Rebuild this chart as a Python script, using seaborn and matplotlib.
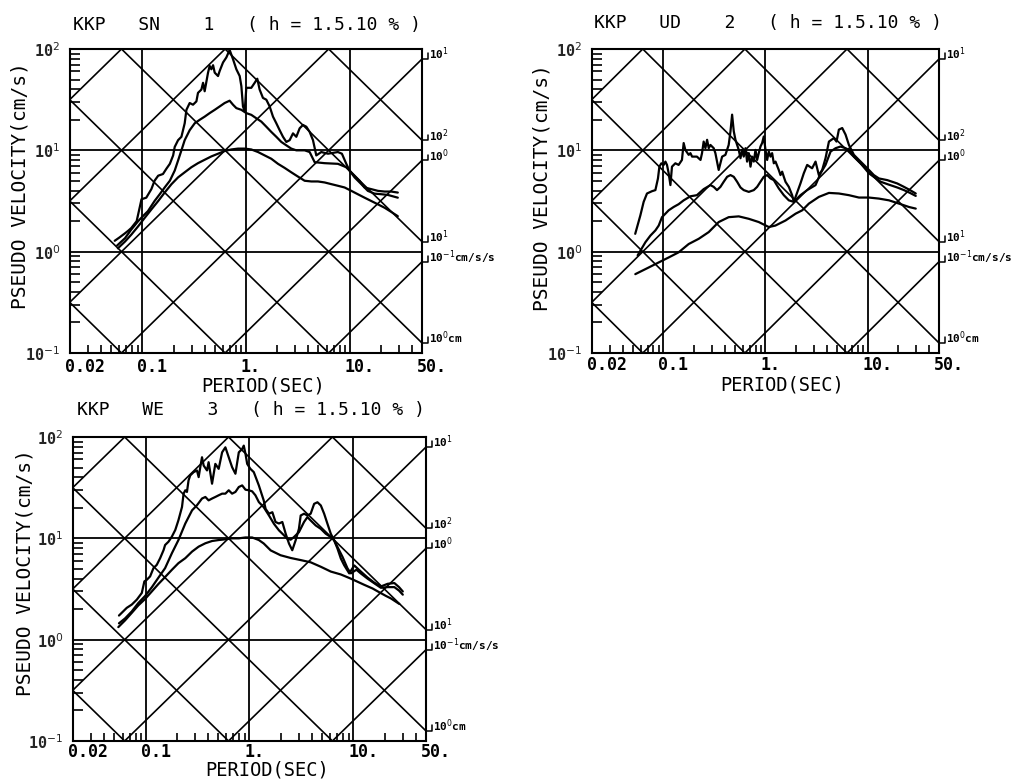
import numpy as np
import pandas as pd
import matplotlib
matplotlib.use("Agg")
import matplotlib.pyplot as plt
from matplotlib.lines import Line2D
from matplotlib.ticker import NullFormatter, LogLocator
from matplotlib.transforms import blended_transform_factory, offset_copy
import seaborn as sns

# ---------------- spectra (period in s, pseudo velocity in cm/s) ----------------
# Station KKP, component SN; damping h = 1, 5, 10 %
sn_h1_T = [0.054, 0.060, 0.068, 0.073, 0.078, 0.088, 0.094, 0.098, 0.109, 0.122,
           0.131, 0.142, 0.158, 0.170, 0.184, 0.198, 0.205, 0.221, 0.238, 0.256,
           0.266, 0.286, 0.308, 0.332, 0.344, 0.371, 0.385, 0.399, 0.430, 0.446,
           0.463, 0.481, 0.499, 0.537, 0.557, 0.600, 0.646, 0.695, 0.749, 0.807,
           0.869, 0.902, 0.935, 0.971, 1.007, 1.125, 1.213, 1.285, 1.354, 1.458,
           1.571, 1.692, 1.822, 1.962, 2.113, 2.276, 2.451, 2.639, 2.842, 3.060,
           3.296, 3.549, 3.822, 4.116, 4.432, 4.77, 5.33, 6.18, 7.71, 8.43,
           9.29, 10.0, 11.17, 12.48, 13.95, 16.2, 18.8, 21.8, 25.2, 29.2]
sn_h1_V = [1.28, 1.38, 1.52, 1.61, 1.71, 2.0, 2.71, 3.29, 3.41, 4.14,
           5.01, 5.62, 5.84, 6.56, 7.36, 8.91, 10.8, 12.6, 13.6, 18.5,
           25.1, 29.3, 28.2, 30.4, 36.9, 39.8, 46.4, 38.3, 58.4, 68.1,
           63.1, 69.2, 58.4, 54.1, 60.7, 73.6, 82.5, 98.0, 79.4, 63.1,
           54.1, 43.0, 27.1, 24.2, 41.4, 41.4, 46.4, 50.9, 39.8, 32.9,
           31.6, 27.1, 21.5, 18.5, 15.8, 13.6, 12.1, 12.6, 14.7, 13.6,
           16.5, 17.8, 17.1, 15.2, 12.6, 8.91, 9.62, 9.26, 9.62, 9.26,
           7.36, 6.31, 5.62, 5.01, 4.30, 4.14, 3.98, 3.92, 3.92, 3.83]
sn_h5_T = [0.057, 0.068, 0.078, 0.091, 0.101, 0.113, 0.131, 0.147, 0.164, 0.184,
           0.205, 0.221, 0.238, 0.256, 0.286, 0.320, 0.357, 0.399, 0.446, 0.499,
           0.557, 0.622, 0.695, 0.749, 0.807, 0.902, 1.007, 1.125, 1.259, 1.406,
           1.571, 1.754, 1.962, 2.193, 2.451, 2.736, 3.060, 3.68, 4.116, 4.599,
           5.74, 7.71, 9.29, 10.0, 11.17, 12.97, 15.0, 17.4, 20.2, 23.4, 29.2]
sn_h5_V = [1.15, 1.36, 1.65, 2.0, 2.24, 2.51, 3.16, 3.69, 4.30, 5.01,
           6.31, 7.94, 10.0, 12.6, 15.8, 18.5, 20.0, 21.5, 23.3, 25.1,
           27.1, 29.3, 30.9, 28.2, 26.1, 25.1, 23.3, 22.4, 20.7, 19.2,
           17.1, 15.2, 13.6, 12.1, 11.2, 10.4, 10.0, 10.0, 9.62, 7.64,
           7.47, 7.36, 6.81, 6.31, 5.41, 4.64, 3.98, 3.74, 3.69, 3.63, 3.41]
sn_h10_T = [0.058, 0.068, 0.078, 0.091, 0.105, 0.122, 0.142, 0.164, 0.191, 0.221,
            0.256, 0.297, 0.344, 0.399, 0.463, 0.537, 0.622, 0.722, 0.838, 0.971,
            1.125, 1.306, 1.514, 1.754, 2.036, 2.36, 2.736, 3.18, 3.68, 4.27,
            4.95, 5.74, 6.65, 7.71, 8.95, 10.4, 12.0, 13.95, 16.2, 18.8,
            21.8, 25.2, 29.2]
sn_h10_V = [1.08, 1.26, 1.47, 1.78, 2.15, 2.61, 3.16, 3.83, 4.64, 5.41,
            6.07, 6.81, 7.47, 8.07, 8.71, 9.26, 9.85, 10.2, 10.4, 10.4,
            10.2, 9.62, 8.91, 8.26, 7.36, 6.71, 6.07, 5.50, 5.01, 4.93,
            4.93, 4.82, 4.64, 4.47, 4.30, 3.98, 3.69, 3.41, 3.16, 2.93,
            2.71, 2.47, 2.24]

# Component UD
ud_h1_T = [0.053, 0.0595, 0.0641, 0.0691, 0.0773, 0.0835, 0.0885, 0.0914, 0.0956, 0.1007,
           0.1047, 0.1085, 0.1127, 0.1172, 0.1214, 0.131, 0.141, 0.152, 0.158, 0.164,
           0.177, 0.184, 0.191, 0.213, 0.231, 0.239, 0.248, 0.258, 0.268, 0.278,
           0.289, 0.311, 0.323, 0.348, 0.376, 0.405, 0.436, 0.454, 0.471, 0.489,
           0.508, 0.547, 0.569, 0.590, 0.612, 0.637, 0.660, 0.686, 0.713, 0.740,
           0.768, 0.798, 0.828, 0.859, 0.893, 0.927, 0.962, 1.0, 1.038, 1.077,
           1.119, 1.161, 1.206, 1.253, 1.349, 1.402, 1.456, 1.511, 1.570, 1.692,
           1.823, 1.893, 2.20, 2.37, 2.56, 2.86, 3.09, 3.33, 3.59, 3.87,
           4.18, 4.67, 4.96, 5.23, 5.64, 6.08, 6.56, 7.34, 8.22, 9.20,
           10.3, 11.5, 12.9, 15.6, 19.5, 22.7, 26.0, 29.6]
ud_h1_V = [1.50, 2.28, 3.10, 3.75, 3.95, 4.05, 5.28, 6.90, 7.45, 7.18,
           7.74, 7.18, 5.93, 4.54, 6.90, 7.45, 7.18, 8.04, 11.8, 10.1,
           9.02, 9.38, 8.67, 8.67, 8.04, 9.38, 12.2, 10.5, 12.7, 10.5,
           11.3, 10.5, 9.38, 6.40, 8.67, 9.02, 11.3, 15.4, 22.5, 15.4,
           12.7, 10.1, 8.36, 10.1, 8.67, 10.5, 7.74, 9.38, 6.90, 8.67,
           7.74, 10.1, 8.04, 9.38, 10.9, 11.8, 13.7, 10.1, 8.04, 9.73,
           8.67, 9.38, 7.45, 7.74, 6.40, 5.70, 6.16, 5.48, 4.89, 4.36,
           3.61, 3.10, 4.72, 5.93, 7.18, 6.65, 7.74, 5.70, 6.40, 8.36,
           12.2, 13.2, 12.2, 16.0, 16.6, 14.3, 11.3, 9.02, 8.04, 7.18,
           6.40, 5.70, 5.28, 5.08, 4.71, 4.36, 4.05, 3.75]
ud_h5_T = [0.056, 0.0595, 0.0667, 0.0746, 0.0835, 0.090, 0.0969, 0.1047, 0.1127, 0.126,
           0.141, 0.158, 0.184, 0.213, 0.248, 0.289, 0.311, 0.335, 0.362, 0.390,
           0.421, 0.454, 0.489, 0.527, 0.569, 0.612, 0.686, 0.768, 0.828, 0.893,
           0.962, 1.038, 1.119, 1.206, 1.349, 1.511, 1.692, 1.893, 2.20, 2.56,
           3.09, 3.46, 3.87, 4.34, 4.86, 5.43, 6.08, 6.56, 7.34, 8.53,
           10.3, 13.4, 16.0, 19.5, 22.7, 26.0, 29.6]
ud_h5_V = [0.92, 1.02, 1.24, 1.44, 1.62, 1.81, 2.19, 2.37, 2.56, 2.76,
           2.94, 3.21, 3.52, 3.61, 4.14, 4.54, 4.36, 4.05, 4.36, 4.90,
           5.48, 5.70, 5.48, 4.90, 4.30, 4.05, 3.89, 4.05, 4.36, 4.90,
           5.48, 5.70, 5.28, 5.08, 4.21, 3.61, 3.21, 3.10, 3.61, 4.05,
           4.54, 5.93, 7.18, 9.73, 10.5, 10.9, 10.5, 10.1, 8.69, 7.46,
           5.93, 4.90, 4.60, 4.30, 4.05, 3.80, 3.55]
ud_h10_T = [0.0531, 0.0718, 0.090, 0.113, 0.141, 0.177, 0.222, 0.278, 0.348, 0.436,
            0.547, 0.686, 0.859, 1.077, 1.25, 1.57, 1.97, 2.29, 2.66, 3.33,
            4.18, 5.23, 6.56, 8.22, 10.3, 12.9, 16.2, 20.3, 25.4, 29.6]
ud_h10_V = [0.600, 0.698, 0.783, 0.878, 0.985, 1.19, 1.34, 1.56, 1.96, 2.19,
            2.23, 2.11, 1.96, 1.75, 1.81, 2.03, 2.37, 2.56, 2.98, 3.47,
            3.80, 3.75, 3.61, 3.42, 3.42, 3.34, 3.21, 2.98, 2.76, 2.66]

# Component WE
we_h1_T = [0.0554, 0.0611, 0.0658, 0.0736, 0.0822, 0.0919, 0.0973, 0.1027, 0.1105, 0.119,
           0.128, 0.138, 0.149, 0.154, 0.166, 0.179, 0.193, 0.207, 0.224, 0.232,
           0.241, 0.250, 0.259, 0.269, 0.290, 0.312, 0.324, 0.336, 0.349, 0.362,
           0.390, 0.404, 0.436, 0.469, 0.505, 0.545, 0.586, 0.631, 0.680, 0.732,
           0.789, 0.850, 0.881, 0.915, 0.950, 1.02, 1.10, 1.23, 1.37, 1.43,
           1.54, 1.66, 1.78, 1.92, 2.07, 2.23, 2.40, 2.58, 2.78, 2.99,
           3.11, 3.35, 3.61, 3.88, 4.19, 4.51, 4.86, 5.23, 5.63, 6.06,
           6.53, 7.03, 7.57, 8.15, 9.12, 10.2, 11.8, 13.7, 15.9, 18.4,
           21.4, 24.8, 27.5, 29.9]
we_h1_V = [1.73, 1.91, 2.06, 2.22, 2.48, 2.89, 3.76, 3.90, 4.21, 5.08,
           5.47, 6.37, 7.67, 8.59, 9.26, 10.4, 12.1, 15.1, 20.4, 27.6,
           29.8, 28.7, 37.3, 41.8, 45.0, 46.8, 40.2, 50.4, 63.1, 52.3,
           46.8, 56.4, 34.6, 54.3, 48.5, 70.6, 79.1, 63.1, 50.4, 43.4,
           70.6, 76.2, 82.2, 68.1, 54.3, 48.5, 45.0, 33.3, 23.7, 19.5,
           17.5, 18.1, 14.5, 14.0, 14.5, 11.1, 8.87, 7.63, 9.55, 12.4,
           16.8, 17.5, 16.8, 17.5, 21.9, 22.7, 21.1, 17.5, 13.9, 11.1,
           9.55, 7.92, 6.32, 5.43, 4.51, 5.40, 4.70, 4.10, 3.65, 3.35,
           3.56, 3.62, 3.30, 2.99]
we_h5_T = [0.0554, 0.0634, 0.0736, 0.0851, 0.0989, 0.115, 0.133, 0.154, 0.179, 0.207,
           0.241, 0.280, 0.312, 0.349, 0.376, 0.404, 0.436, 0.469, 0.505, 0.545,
           0.586, 0.631, 0.680, 0.732, 0.789, 0.850, 0.915, 0.986, 1.06, 1.14,
           1.23, 1.37, 1.54, 1.72, 1.92, 2.15, 2.31, 2.49, 2.68, 2.99,
           3.35, 3.61, 3.88, 4.34, 4.86, 5.42, 6.06, 6.53, 7.03, 7.86,
           8.78, 9.46, 10.7, 11.8, 13.7, 15.9, 18.4, 21.4, 24.8, 27.5, 29.9]
we_h5_V = [1.45, 1.62, 1.90, 2.30, 2.70, 3.30, 4.10, 5.08, 7.13, 9.62,
           14.0, 18.9, 21.2, 24.7, 25.6, 23.7, 24.7, 25.6, 26.6, 27.6,
           27.6, 29.8, 27.6, 28.7, 32.1, 33.3, 30.2, 29.8, 29.1, 26.6,
           22.8, 20.3, 16.8, 13.9, 12.0, 10.7, 9.93, 9.70, 10.3, 11.5,
           14.5, 16.2, 15.0, 13.4, 12.4, 11.1, 10.3, 9.55, 8.22, 6.56,
           5.05, 4.51, 4.90, 4.50, 4.00, 3.60, 3.25, 3.30, 3.30, 3.05, 2.78]
we_h10_T = [0.0546, 0.0634, 0.0736, 0.0851, 0.0989, 0.115, 0.133, 0.154, 0.179, 0.207,
            0.241, 0.280, 0.324, 0.376, 0.436, 0.505, 0.586, 0.680, 0.789, 0.915,
            1.06, 1.23, 1.37, 1.60, 1.99, 2.49, 3.11, 3.88, 4.86, 6.06,
            7.57, 9.46, 12.7, 15.3, 17.1, 20.6, 23.0, 27.7]
we_h10_V = [1.33, 1.55, 1.84, 2.18, 2.52, 3.00, 3.55, 4.15, 4.89, 5.69,
            6.37, 7.40, 8.28, 8.94, 9.41, 9.62, 9.78, 10.0, 10.0, 10.2,
            10.2, 9.62, 8.90, 7.60, 6.81, 6.40, 6.10, 5.80, 5.24, 4.70,
            4.40, 4.00, 3.48, 3.20, 3.00, 2.70, 2.55, 2.25]

dampings = ["1%", "5%", "10%"]
panel_titles = ["KKP   SN    1   ( h = 1.5.10 % )",
                "KKP   UD    2   ( h = 1.5.10 % )",
                "KKP   WE    3   ( h = 1.5.10 % )"]

# axis furniture
x_tick_values = [0.02, 0.1, 1, 10, 50]
x_tick_labels = ["0.02", "0.1", "1.", "10.", "50."]
y_tick_values = [0.1, 1, 10, 100]
y_tick_labels = ["10$^{-1}$", "10$^{0}$", "10$^{1}$", "10$^{2}$"]
grid_periods = [0.1, 1, 10]
grid_velocities = [1, 10]
accel_exponents = [-1, 0, 1, 2, 3, 4]      # constant pseudo-acceleration lines
disp_exponents = [-3, -2, -1, 0, 1, 2]     # constant displacement lines
accel_right_labels = {1: "10$^{1}$", 0: "10$^{0}$", -1: "10$^{-1}$cm/s/s"}
disp_right_labels = {2: "10$^{2}$", 1: "10$^{1}$", 0: "10$^{0}$cm"}

T_MIN, T_MAX = 0.02, 50.0
V_MIN, V_MAX = 0.1, 100.0

sns.set_style("white")
plt.rcParams["font.family"] = ["DejaVu Sans Mono", "DejaVu Sans"]
plt.rcParams["mathtext.fontset"] = "dejavusans"

fig = plt.figure(figsize=(10.12, 7.83), dpi=100)

W, H = 1012, 783
# axes boxes in pixels: (left, top, right, bottom)
boxes = [(70, 49, 422, 353), (592, 49, 939, 353), (73, 437, 426, 741)]
rects = [(l / W, 1 - b / H, (r - l) / W, (b - t) / H) for l, t, r, b in boxes]
ylabel_pos = [(-0.142, 0.549), (-0.145, 0.543), (-0.135, 0.553)]
xlabel_pos = [(0.55, -0.108), (0.548, -0.105), (0.55, -0.097)]
title_pos = [(0.504, 1.079), (0.506, 1.086), (0.504, 1.089)]
xtick_drop = [-5, -3, -2]

panels = [
    [(sn_h1_T, sn_h1_V), (sn_h5_T, sn_h5_V), (sn_h10_T, sn_h10_V)],
    [(ud_h1_T, ud_h1_V), (ud_h5_T, ud_h5_V), (ud_h10_T, ud_h10_V)],
    [(we_h1_T, we_h1_V), (we_h5_T, we_h5_V), (we_h10_T, we_h10_V)],
]

LINE = "black"


def tripartite_frame(ax, drop):
    ax.set_xscale("log")
    ax.set_yscale("log")
    ax.set_xlim(T_MIN, T_MAX)
    ax.set_ylim(V_MIN, V_MAX)
    for t in grid_periods:
        ax.axvline(t, color=LINE, lw=1.3, zorder=1)
    for v in grid_velocities:
        ax.axhline(v, color=LINE, lw=1.3, zorder=1)
    span = np.array([T_MIN, T_MAX])
    for k in accel_exponents:
        ax.plot(span, 10.0 ** k * span / (2 * np.pi), color=LINE, lw=1.2, zorder=1)
    for k in disp_exponents:
        ax.plot(span, 2 * np.pi * 10.0 ** k / span, color=LINE, lw=1.2, zorder=1)

    # right-hand scale marks where the diagonal lines leave the frame
    mark = blended_transform_factory(ax.transAxes, ax.transData)
    marks = [(10.0 ** k * T_MAX / (2 * np.pi), s) for k, s in accel_right_labels.items()]
    marks += [(2 * np.pi * 10.0 ** k / T_MAX, s) for k, s in disp_right_labels.items()]
    for v, s in marks:
        ax.add_line(Line2D([1.0, 1.016, 1.016], [v, v, v * 10 ** 0.055],
                           transform=mark, color=LINE, lw=1.1, clip_on=False))
        ax.text(1.021, v, s, transform=mark, ha="left", va="baseline",
                fontsize=8, fontweight="bold", color=LINE, clip_on=False)

    for side in ax.spines.values():
        side.set_visible(True)
        side.set_color(LINE)
        side.set_linewidth(1.5)

    ax.set_xticks(x_tick_values)
    ax.set_xticklabels([])
    ax.xaxis.set_minor_locator(LogLocator(base=10, subs=np.arange(2, 10)))
    ax.xaxis.set_minor_formatter(NullFormatter())
    ax.set_yticks(y_tick_values)
    ax.set_yticklabels(y_tick_labels, fontsize=11, fontweight="bold")
    ax.yaxis.set_minor_locator(LogLocator(base=10, subs=np.arange(2, 10)))
    ax.yaxis.set_minor_formatter(NullFormatter())
    ax.tick_params(which="major", length=0, pad=7)
    ax.tick_params(axis="x", which="minor", direction="in", length=6, width=1.2,
                   color=LINE, top=False, bottom=True)
    ax.tick_params(axis="y", which="minor", direction="in", length=7, width=1.2,
                   color=LINE, right=False, left=True)

    # period labels start just left of their tick
    xt = offset_copy(blended_transform_factory(ax.transData, ax.transAxes),
                     fig=fig, x=-5, y=drop, units="dots")
    for t, s in zip(x_tick_values, x_tick_labels):
        ax.text(t, 0.0, s, transform=xt, ha="left", va="top",
                fontsize=12, fontweight="bold", color=LINE)


for i, (rect, curves) in enumerate(zip(rects, panels)):
    ax = fig.add_axes(rect)
    tripartite_frame(ax, xtick_drop[i])
    frames = [pd.DataFrame({"period": T, "velocity": V, "damping": h})
              for (T, V), h in zip(curves, dampings)]
    df = pd.concat(frames, ignore_index=True)
    sns.lineplot(data=df, x="period", y="velocity", units="damping",
                 estimator=None, sort=False, color=LINE, lw=1.6, ax=ax, zorder=3)
    ax.set_xlim(T_MIN, T_MAX)
    ax.set_ylim(V_MIN, V_MAX)

    ax.set_ylabel("PSEUDO VELOCITY(cm/s)", fontsize=14, color=LINE)
    ax.yaxis.set_label_coords(*ylabel_pos[i])
    ax.yaxis.label.set_verticalalignment("center")
    ax.set_xlabel("PERIOD(SEC)", fontsize=13.5, color=LINE)
    ax.xaxis.set_label_coords(*xlabel_pos[i])
    ax.xaxis.label.set_verticalalignment("center")
    ax.text(*title_pos[i], panel_titles[i], transform=ax.transAxes,
            ha="center", va="center", fontsize=13, color=LINE)

fig.savefig("out.png", dpi=100, facecolor="white")
